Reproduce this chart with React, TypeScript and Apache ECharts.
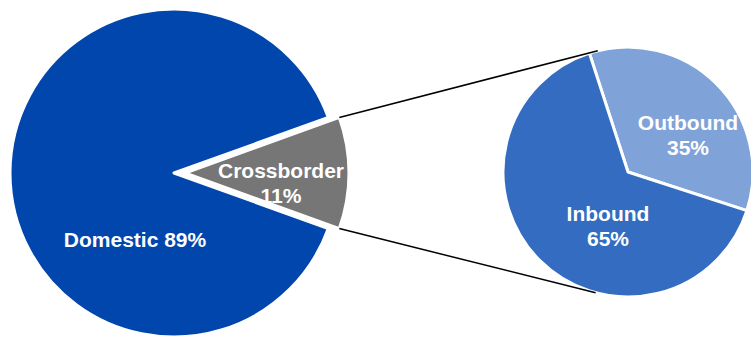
import React, { useEffect, useRef } from "react";
import * as echarts from "echarts";

// ---- data ----
const mainCategories = ["Crossborder", "Domestic"];
const mainValues = [11, 89];
const subCategories = ["Outbound", "Inbound"];
const subValues = [35, 65];

// ---- styles / layout ----
const W = 751;
const H = 337;
const mainCenter = [174, 173];
const mainRadius = 164;
const explode = 11;
const subCenter = [628, 172];
const subRadius = 125;
const subStart = 108;
const mainColors = ["#767676", "#0046AD"];
const subColors = ["#7FA3D8", "#336CC0"];
const FONT = "'Liberation Sans', Arial, sans-serif";

const mainLabelPos = [
  [281, 183],
  [135, 239],
];
const subLabelPos = [
  [688, 135],
  [608, 226],
];

export default function App() {
  const ref = useRef<HTMLDivElement>(null);
  useEffect(() => {
    if (!ref.current) return;
    const chart = echarts.init(ref.current, null, { renderer: "svg" });
    const total = mainValues.reduce((a, b) => a + b, 0);
    const half = (mainValues[0] / total) * 180; // crossborder centred at 0 deg
    const rad = (d: number) => (d * Math.PI) / 180;
    const cornerTop = [
      mainCenter[0] + explode + mainRadius * Math.cos(rad(half)),
      mainCenter[1] - mainRadius * Math.sin(rad(half)),
    ];
    const cornerBot = [cornerTop[0], mainCenter[1] + mainRadius * Math.sin(rad(half))];
    const subTop = [
      subCenter[0] + subRadius * Math.cos(rad(104)),
      subCenter[1] - subRadius * Math.sin(rad(104)),
    ];
    const subBot = [
      subCenter[0] + subRadius * Math.cos(rad(-105)),
      subCenter[1] - subRadius * Math.sin(rad(-105)),
    ];
    const labelStyle = {
      show: true,
      position: "inside",
      color: "#ffffff",
      fontFamily: FONT,
      fontWeight: "bold",
      fontSize: 21,
      lineHeight: 25,
      align: "center",
      verticalAlign: "middle",
    };
    const hidden = {
      itemStyle: { color: "transparent", borderWidth: 0 },
      label: { show: false },
    };
    chart.setOption({
      animation: false,
      graphic: [
        {
          type: "line",
          z: 10,
          shape: { x1: cornerTop[0], y1: cornerTop[1], x2: subTop[0], y2: subTop[1] },
          style: { stroke: "#000000", lineWidth: 1.5 },
        },
        {
          type: "line",
          z: 10,
          shape: { x1: cornerBot[0], y1: cornerBot[1], x2: subBot[0], y2: subBot[1] },
          style: { stroke: "#000000", lineWidth: 1.5 },
        },
      ],
      series: [
        {
          // Domestic (crossborder wedge left empty here)
          type: "pie",
          z: 2,
          center: mainCenter,
          radius: mainRadius,
          startAngle: half,
          clockwise: true,
          silent: true,
          itemStyle: { borderColor: "#ffffff", borderWidth: 3 },
          label: { ...labelStyle, formatter: (p: any) => `${p.name} ${p.value}%` },
          labelLayout: (p: any) => ({ x: mainLabelPos[p.dataIndex][0], y: mainLabelPos[p.dataIndex][1] }),
          labelLine: { show: false },
          data: mainCategories.map((n, i) =>
            i === 0
              ? { name: n, value: mainValues[i], ...hidden }
              : { name: n, value: mainValues[i], itemStyle: { color: mainColors[i] } }
          ),
        },
        {
          // Crossborder wedge, pulled out
          type: "pie",
          z: 3,
          center: [mainCenter[0] + explode, mainCenter[1]],
          radius: mainRadius,
          startAngle: half,
          clockwise: true,
          silent: true,
          itemStyle: { borderColor: "#ffffff", borderWidth: 3 },
          label: { ...labelStyle, formatter: (p: any) => `${p.name}\n${p.value}%` },
          labelLayout: (p: any) => ({ x: mainLabelPos[p.dataIndex][0], y: mainLabelPos[p.dataIndex][1] }),
          labelLine: { show: false },
          data: mainCategories.map((n, i) =>
            i === 1
              ? { name: n, value: mainValues[i], ...hidden }
              : { name: n, value: mainValues[i], itemStyle: { color: mainColors[i] } }
          ),
        },
        {
          type: "pie",
          z: 2,
          center: subCenter,
          radius: subRadius,
          startAngle: subStart,
          clockwise: true,
          silent: true,
          itemStyle: { borderColor: "#ffffff", borderWidth: 3 },
          label: { ...labelStyle, formatter: (p: any) => `${p.name}\n${p.value}%` },
          labelLayout: (p: any) => ({ x: subLabelPos[p.dataIndex][0], y: subLabelPos[p.dataIndex][1] }),
          labelLine: { show: false },
          data: subCategories.map((n, i) => ({
            name: n,
            value: subValues[i],
            itemStyle: { color: subColors[i] },
          })),
        },
      ],
    });
    return () => chart.dispose();
  }, []);
  return (
    <div
      ref={ref}
      style={{ position: "fixed", left: 0, top: 0, width: W, height: H, background: "#ffffff" }}
    />
  );
}
